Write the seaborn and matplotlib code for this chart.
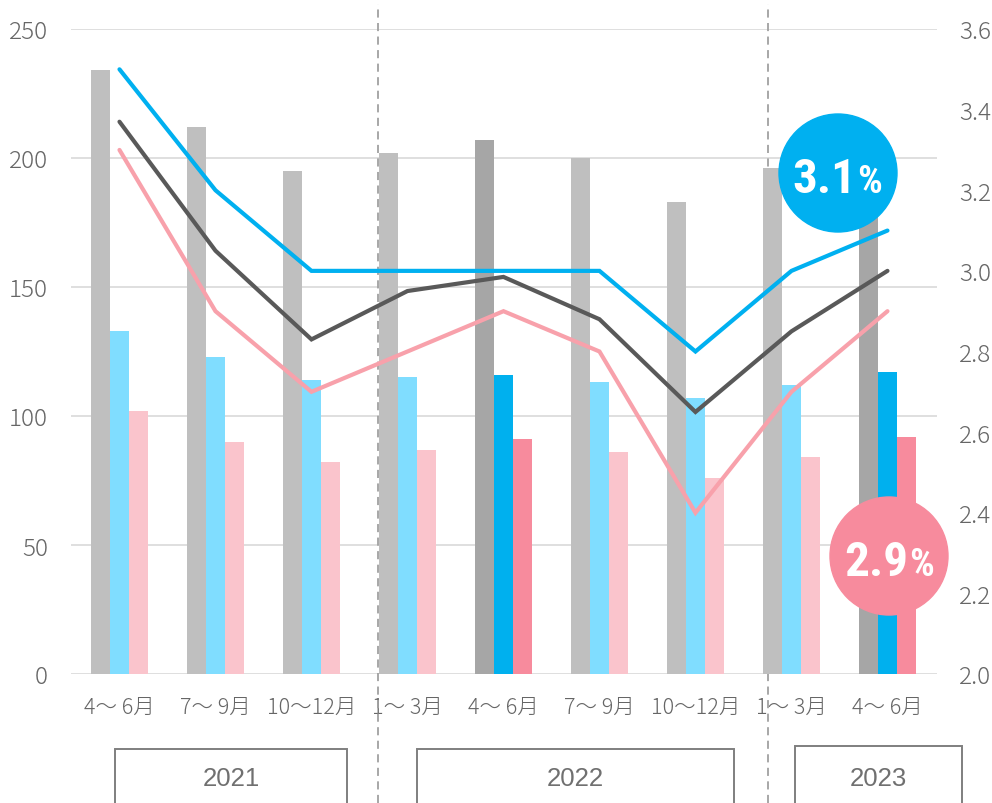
import numpy as np
import pandas as pd
import matplotlib
matplotlib.use("Agg")
import matplotlib.pyplot as plt
import seaborn as sns
from matplotlib.patches import Ellipse, Rectangle
from matplotlib import font_manager

# ---------------- data ----------------
periods = ["2021Q2", "2021Q3", "2021Q4", "2022Q1", "2022Q2", "2022Q3", "2022Q4", "2023Q1", "2023Q2"]
tick_labels = ["4～ 6月", "7～ 9月", "10～12月", "1～ 3月", "4～ 6月", "7～ 9月", "10～12月", "1～ 3月", "4～ 6月"]
years = ["2021", "2022", "2023"]
bar_series = ["gray", "blue", "pink"]
bar_gray = [234, 212, 195, 202, 207, 200, 183, 196, 190]
bar_blue = [133, 123, 114, 115, 116, 113, 107, 112, 117]
bar_pink = [102, 90, 82, 87, 91, 86, 76, 84, 92]
line_blue = [3.50, 3.20, 3.00, 3.00, 3.00, 3.00, 2.80, 3.00, 3.10]
line_gray = [3.37, 3.05, 2.83, 2.95, 2.985, 2.88, 2.65, 2.85, 3.00]
line_pink = [3.30, 2.90, 2.70, 2.80, 2.90, 2.80, 2.40, 2.70, 2.90]
highlight = [4, 8]
callout_blue = "3.1"
callout_pink = "2.9"

# ---------------- style ----------------
sns.set_theme(style="white")
plt.rcParams["font.family"] = ["Noto Sans CJK JP", "DejaVu Sans"]
TXT = "#666666"
light_cols = {"gray": "#BFBFBF", "blue": "#80DDFF", "pink": "#FAC4CC"}
dark_cols = {"gray": "#A6A6A6", "blue": "#00B0EE", "pink": "#F78B9D"}
line_cols = {"blue": "#00B0F0", "gray": "#595959", "pink": "#F8A1AB"}

W, H = 992, 804
fig = plt.figure(figsize=(W / 100, H / 100), dpi=100)
ax = fig.add_axes([71 / W, 1 - 675 / H, (937 - 71) / W, 645 / H])

pos = np.arange(len(periods))
df = pd.DataFrame({
    "pos": np.tile(pos, 3),
    "series": np.repeat(bar_series, len(periods)),
    "value": bar_gray + bar_blue + bar_pink,
})
sns.barplot(data=df, x="pos", y="value", hue="series", hue_order=bar_series,
            palette=light_cols, width=0.6, gap=0, native_scale=True,
            saturation=1, errorbar=None, legend=False, ax=ax, zorder=2)
for s, cont in zip(bar_series, ax.containers):
    for j in highlight:
        cont[j].set_facecolor(dark_cols[s])
    for b in cont:
        b.set_linewidth(0)

ax.set_ylim(0, 250)
ax.set_xlim(-0.505, 8.516)
ax.set_yticks(np.arange(0, 251, 50))
ax.grid(axis="y", color="#D9D9D9", lw=1.2)
ax.set_axisbelow(True)
ax.set_xticks(pos)
ax.set_xticklabels(tick_labels)
ax.tick_params(axis="x", length=0, pad=16, labelsize=15.5, labelcolor=TXT)
ax.tick_params(axis="y", length=0, pad=16.5, labelsize=17.5, labelcolor=TXT)
for lab in ax.get_xticklabels() + ax.get_yticklabels():
    lab.set_fontweight("light")
ax.set_xlabel("")
ax.set_ylabel("")
for sp in ax.spines.values():
    sp.set_visible(False)

ax2 = ax.twinx()
for vals, key in [(line_pink, "pink"), (line_gray, "gray"), (line_blue, "blue")]:
    sns.lineplot(x=pos, y=vals, ax=ax2, color=line_cols[key], linewidth=3.0,
                 solid_capstyle="round", solid_joinstyle="miter", zorder=3)
ax2.set_ylim(2.0, 3.6)
rt = np.round(np.arange(2.0, 3.61, 0.2), 1)
ax2.set_yticks(rt)
ax2.set_yticklabels([f"{v:.1f}" for v in rt])
ax2.tick_params(axis="y", length=0, pad=16, labelsize=17.5, labelcolor=TXT)
for lab in ax2.get_yticklabels():
    lab.set_fontweight("light")
ax2.set_ylabel("")
ax2.grid(False)
for sp in ax2.spines.values():
    sp.set_visible(False)
ax2.set_xlim(-0.505, 8.516)

# dashed year separators
for xv in [2.69, 6.755]:
    ax.axvline(xv, ymin=-0.2, ymax=1.039, clip_on=False, color="#A0A0A0",
               lw=1.3, ls=(0, (4.5, 3)), zorder=1)

# year boxes
boxes = [(115, 347, 750), (417, 734, 750), (795, 962, 747)]
for (x0, x1, yt), yr in zip(boxes, years):
    fig.add_artist(Rectangle((x0 / W, 1 - 820 / H), (x1 - x0) / W, (820 - yt) / H,
                             transform=fig.transFigure, fill=False,
                             edgecolor="#7F7F7F", lw=1.4))
    fig.text((x0 + x1) / 2 / W, 1 - 779 / H, yr, ha="center", va="center",
             fontsize=18.5, color="#707070", family=["Liberation Sans", "DejaVu Sans"])

# callouts: choose the most condensed heavy family available
avail = {f.name for f in font_manager.fontManager.ttflist}
cands = ["Roboto Condensed", "Liberation Sans Narrow", "Roboto", "Inter", "DejaVu Sans"]
cfam = [c for c in cands if c in avail][:1] + ["DejaVu Sans"]

texts = []
for (cx, cy), col, txt, xr, yb in [((838, 174), "#00B0F0", callout_blue, 856, 193),
                                   ((889, 557), "#F78B9D", callout_pink, 908, 576)]:
    fig.add_artist(Ellipse((cx / W, 1 - cy / H), 118 / W, 118 / H,
                           transform=fig.transFigure, color=col, zorder=10))
    t1 = fig.text(xr / W, 1 - yb / H, txt, ha="right", va="baseline", fontsize=50,
                  fontweight="black", color="white", family=cfam, zorder=11)
    t2 = fig.text((xr + 1) / W, 1 - yb / H, "%", ha="left", va="baseline", fontsize=28,
                  fontweight="black", color="white", family=cfam, zorder=11)
    texts.append((t1, 64.0, 50))
    texts.append((t2, 30.0, 28))

fig.canvas.draw()
rend = fig.canvas.get_renderer()
for t, target, fs in texts:
    w = t.get_window_extent(rend).width
    if w > target:
        t.set_fontsize(fs * target / w)

fig.savefig("out.png", dpi=100)
